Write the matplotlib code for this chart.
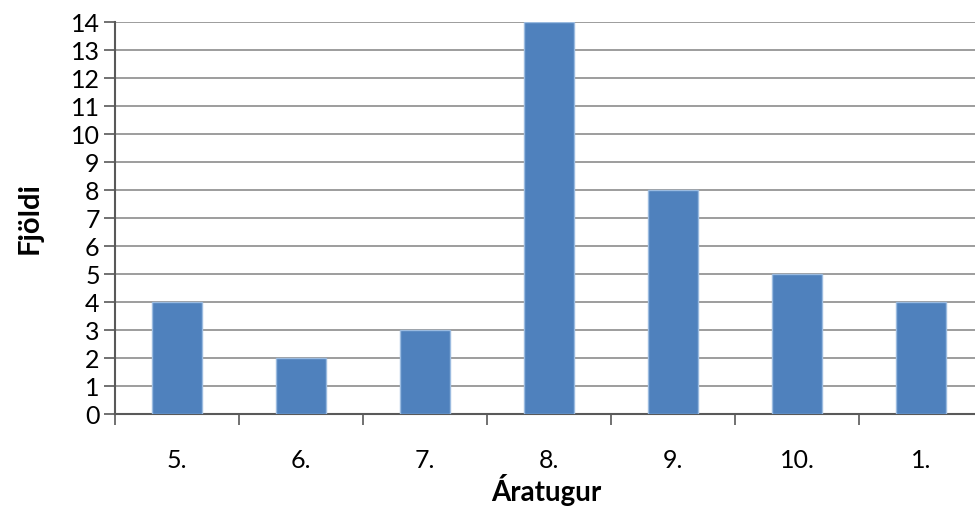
import matplotlib
matplotlib.use("Agg")
import matplotlib.pyplot as plt
import numpy as np

categories = ["5.", "6.", "7.", "8.", "9.", "10.", "1."]
values = [4, 2, 3, 14, 8, 5, 4]
yticks = list(range(0, 15))

plt.rcParams['font.family'] = ['Lato', 'DejaVu Sans']

fig = plt.figure(figsize=(9.75, 5.07), dpi=100)
ax = fig.add_axes([115/975, 1-414/507, (983-115)/975, (414-22)/507])

x = np.arange(len(categories))
ax.bar(x, values, width=0.4, color='#4F81BD', edgecolor='#9BBBE0', linewidth=1.0, zorder=3)

ax.set_xlim(-0.5, len(categories)-0.5)
ax.set_ylim(0, 14)
ax.set_yticks(yticks)
ax.set_yticklabels([str(v) for v in yticks])
ax.yaxis.grid(True, color='#8C8C8C', linewidth=1.2, zorder=0)
ax.set_axisbelow(True)

ax.set_xticks(x)
ax.set_xticklabels(categories)
ax.set_xticks(np.arange(-0.5, len(categories)), minor=True)
ax.tick_params(axis='x', which='major', length=0, pad=25, labelsize=18)
ax.tick_params(axis='x', which='minor', length=8, width=1.2, color='#595959', direction='out')
ax.tick_params(axis='y', length=8, width=1.2, color='#595959', direction='out', labelsize=18, pad=3)

for s in ['top', 'right']:
    ax.spines[s].set_visible(False)
for s in ['left', 'bottom']:
    ax.spines[s].set_color('#595959')
    ax.spines[s].set_linewidth(1.5)

fig.text(30/975, 1-218/507, 'Fjöldi', fontsize=21, fontweight='bold',
         rotation=90, ha='center', va='center')
fig.text(546/975, 1-490/507, 'Áratugur', fontsize=20, fontweight='bold',
         ha='center', va='center')

fig.savefig('out.png', dpi=100)
